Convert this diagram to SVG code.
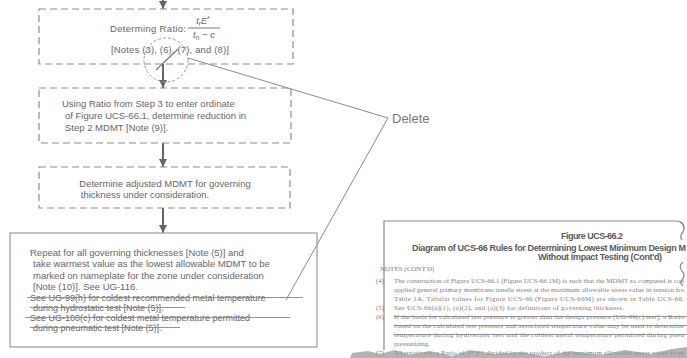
<svg xmlns="http://www.w3.org/2000/svg" width="687" height="358" viewBox="0 0 687 358">
<defs>
<marker id="ah" viewBox="0 0 10 10" refX="10" refY="5" markerWidth="4" markerHeight="4.5" orient="auto" markerUnits="strokeWidth">
<path d="M0,0 L10,5 L0,10 Z" fill="#666"/>
</marker>
<style>
.box{fill:none;stroke:#8e8e8e;stroke-width:1.2;stroke-dasharray:7 4}
.sbox{fill:none;stroke:#9a9a9a;stroke-width:1.2}
.t{font-family:"Liberation Sans",Arial,sans-serif;font-size:9.5px;fill:#666}
.s{font-size:9px}
.arr{stroke:#666;stroke-width:2;fill:none;marker-end:url(#ah)}
.lead{stroke:#8a8a8a;stroke-width:1;fill:none}
.strike{stroke:#888;stroke-width:0.9}
.pt{font-family:"Liberation Sans",Arial,sans-serif;font-weight:bold;font-size:9px;fill:#5a5a5a}
.nt{font-family:"Liberation Serif","Times New Roman",serif;font-size:7px;fill:#7e7e7e}
</style>
</defs>
<rect width="687" height="358" fill="#ffffff"/>

<g id="connectors">
<line class="arr" x1="163" y1="0" x2="163" y2="9"/>
<line class="arr" x1="163" y1="64" x2="163" y2="88"/>
<line class="arr" x1="163" y1="143" x2="163" y2="167"/>
<line class="arr" x1="163" y1="208" x2="163" y2="233"/>
<polyline class="lead" points="188,58 388,118 286,300"/>
</g>

<g id="step-ratio">
<rect class="box" x="39" y="9" width="254" height="55"/>
<text class="t" x="110" y="32" textLength="76">Determing Ratio:</text>
<text class="t" x="203" y="24" text-anchor="middle"><tspan font-style="italic">t</tspan><tspan font-size="6.5px" dy="2">r</tspan><tspan font-style="italic" dy="-2">E</tspan><tspan font-size="6.5px" dy="-3">*</tspan></text>
<line x1="188" y1="28" x2="220" y2="28" stroke="#6a6a6a" stroke-width="0.9"/>
<text class="t" x="204" y="38" text-anchor="middle"><tspan font-style="italic">t</tspan><tspan font-size="6.5px" dy="2">n</tspan><tspan dy="-2"> − </tspan><tspan font-style="italic">c</tspan></text>
<text class="t" x="111" y="53" textLength="118">[Notes (3), (6), (7), and (8)]</text>
</g>

<g id="delete-mark">
<circle cx="166" cy="60" r="22" fill="none" stroke="#9a9a9a" stroke-width="1" stroke-dasharray="3 2"/>
<line x1="156" y1="70" x2="178" y2="49" stroke="#777" stroke-width="1.2"/>
<text x="392" y="123" font-family="'Liberation Sans',Arial,sans-serif" font-size="13px" fill="#777">Delete</text>
</g>

<g id="step-reduction">
<rect class="box" x="39" y="88" width="252" height="55"/>
<text class="t" x="62" y="107">Using Ratio from Step 3 to enter ordinate</text>
<text class="t" x="65" y="119">of Figure UCS-66.1, determine reduction in</text>
<text class="t" x="65" y="131">Step 2 MDMT [Note (9)].</text>
</g>

<g id="step-adjusted">
<rect class="box" x="39" y="167" width="251" height="41"/>
<text class="t" x="165" y="187" text-anchor="middle">Determine adjusted MDMT for governing</text>
<text class="t" x="145" y="198" text-anchor="middle">thickness under consideration.</text>
</g>

<g id="step-repeat">
<rect class="sbox" x="10" y="233" width="307" height="114"/>
<text class="t" x="30" y="256">Repeat for all governing thicknesses [Note (5)] and</text>
<text class="t" x="33" y="267">take warmest value as the lowest allowable MDMT to be</text>
<text class="t" x="33" y="279">marked on nameplate for the zone under consideration</text>
<text class="t" x="33" y="290">[Note (10)]. See UG-116.</text>
<text class="t s" x="30" y="300.5">See UG-99(h) for coldest recommended metal temperature</text>
<text class="t s" x="33" y="310.5">during hydrostatic test [Note (5)].</text>
<text class="t s" x="30" y="320.5">See UG-100(c) for coldest metal temperature permitted</text>
<text class="t s" x="33" y="330.5">during pneumatic test [Note (5)].</text>
<line class="strike" x1="27" y1="297.5" x2="303" y2="297.5"/>
<line class="strike" x1="30" y1="307.5" x2="185" y2="307.5"/>
<line class="strike" x1="25" y1="317.5" x2="290" y2="317.5"/>
<line class="strike" x1="30" y1="327.5" x2="180" y2="327.5"/>
</g>

<g id="page-fragment">
<path d="M384,350 L384,221 L676,221 Q684,221 684,228" fill="none" stroke="#8a8a8a" stroke-width="1.2"/>
<path d="M680,222 q6,4 3,10 q-4,4 -1,8 M683,262 q-5,4 -1,9 q4,4 0,9 q-3,3 1,6" fill="none" stroke="#888" stroke-width="1.2"/>
<text class="pt" x="592" y="239" text-anchor="middle" textLength="62">Figure UCS-66.2</text>
<text class="pt" x="412" y="251" textLength="274">Diagram of UCS-66 Rules for Determining Lowest Minimum Design M</text>
<text class="pt" x="600" y="260" text-anchor="middle" textLength="124">Without Impact Testing (Cont'd)</text>
<text class="nt" x="380" y="271" font-size="6.5px">NOTES (CONT'D)</text>
<text class="nt" x="376" y="283">(4)</text>
<text class="nt" x="394" y="283" textLength="290">The construction of Figure UCS-66.1 (Figure UCS-66.1M) is such that the MDMT so computed is con</text>
<text class="nt" x="394" y="292" textLength="290">applied general primary membrane tensile stress at the maximum allowable stress value in tension fro</text>
<text class="nt" x="394" y="301" textLength="290">Table 1A. Tabular values for Figure UCS-66 (Figure UCS-66M) are shown in Table UCS-66.</text>
<text class="nt" x="376" y="310">(5)</text>
<text class="nt" x="394" y="310" textLength="230">See UCS-66(a)(1), (a)(2), and (a)(3) for definitions of governing thickness.</text>
<text class="nt" x="376" y="319">(6)</text>
<text class="nt" x="394" y="319" textLength="290">If the basis for calculated test pressure is greater than the design pressure [UG-99(c) test], a Ratio</text>
<text class="nt" x="394" y="328" textLength="290">based on the calculated test pressure and associated temperature value may be used to determine</text>
<text class="nt" x="394" y="337" textLength="290">temperature during hydrostatic test and the coldest metal temperature permitted during pneu</text>
<text class="nt" x="394" y="346">pressurizing.</text>
<line class="strike" x1="394" y1="316.5" x2="687" y2="316.5"/>
<line class="strike" x1="394" y1="325.5" x2="687" y2="325.5"/>
<line class="strike" x1="394" y1="334.5" x2="687" y2="334.5"/>
<text class="nt" x="376" y="355">(7)</text>
<text class="nt" x="394" y="355" textLength="290">Alternatively, a Ratio of S* E* divided by the product of the maximum allowable stress value from</text>
<path d="M350,358 L352,353 L368,351 L380,354 L395,350 L410,355 L430,351 L452,356 L470,350 L495,354 L520,352 L545,356 L570,351 L600,355 L625,350 L650,354 L672,349 L687,347 L687,358 Z" fill="#9a9a9a" opacity="0.75"/>
</g>
</svg>
